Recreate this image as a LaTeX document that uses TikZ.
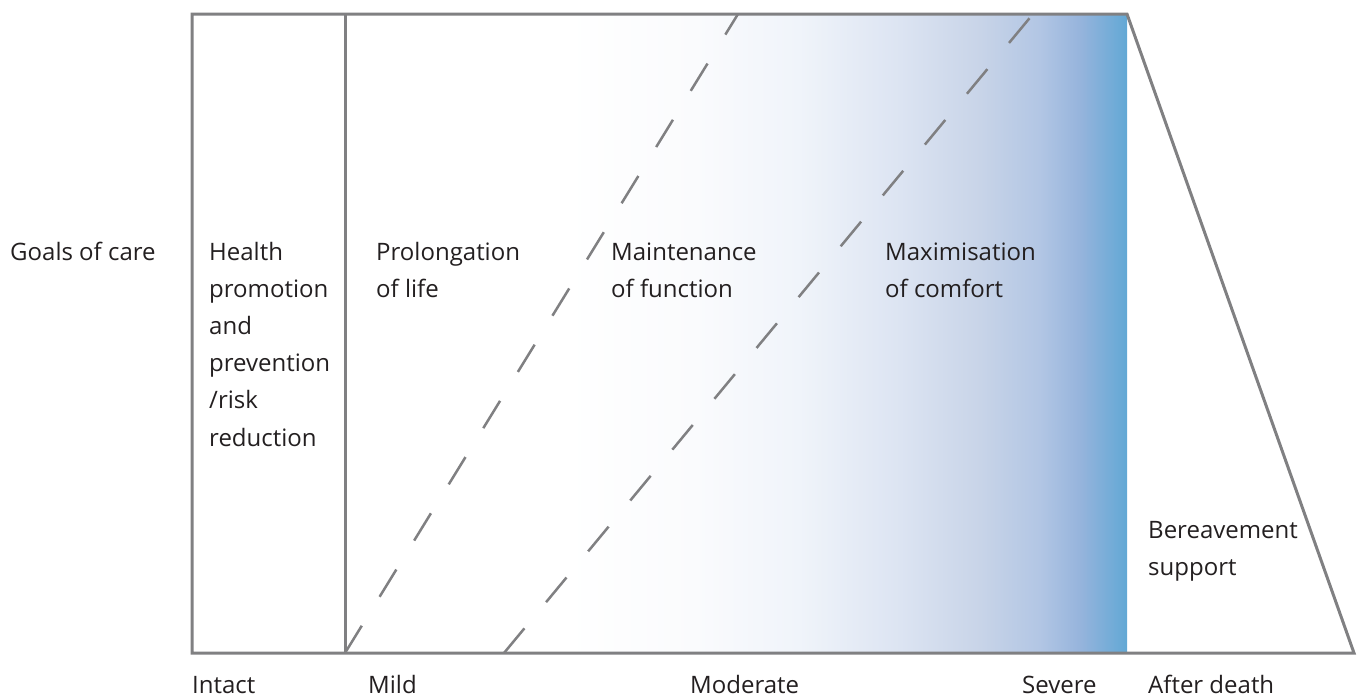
\documentclass[tikz,border=0pt]{standalone}
\usepackage{fontspec}
\setmainfont{Open Sans}
\definecolor{linegray}{RGB}{128,128,130}
\definecolor{txtcol}{RGB}{35,31,32}
\definecolor{ga}{RGB}{250,251,253}
\definecolor{gb}{RGB}{240,244,250}
\definecolor{gc}{RGB}{220,228,242}
\definecolor{gd}{RGB}{200,212,232}
\definecolor{ge}{RGB}{178,198,228}
\definecolor{gf}{RGB}{150,180,220}
\definecolor{gg}{RGB}{98,168,213}
\pgfdeclarehorizontalshading{goalshade}{100bp}{color(0bp)=(white); color(39bp)=(white); color(47.5bp)=(ga); color(54bp)=(gb); color(60.5bp)=(gc); color(65.6bp)=(gd); color(69.4bp)=(ge); color(72bp)=(gf); color(75bp)=(gg); color(100bp)=(gg)}
\newcommand{\stack}[1]{\parbox[t]{6cm}{\raggedright\baselineskip=37.2pt #1}}
\begin{document}
\begin{tikzpicture}[x=1pt,y=-1pt,
  frame/.style={draw=linegray,line width=3pt,line join=miter},
  dashline/.style={draw=linegray,line width=2.5pt,dash pattern=on 32pt off 34pt},
  lbl/.style={anchor=base west,inner sep=0pt,text=txtcol,font=\fontsize{24}{37.2}\selectfont},
  axlbl/.style={lbl,text depth=0pt}]
\useasboundingbox (0,0) rectangle (1360,697);
\coordinate (TL) at (192,14);
\coordinate (BL) at (192,653);
\coordinate (DT) at (345,14);
\coordinate (DB) at (345,653);
\coordinate (ST) at (1127,14);
\coordinate (SB) at (1127,653);
\coordinate (BR) at (1354,653);
\coordinate (A1) at (345,653);
\coordinate (A2) at (738,14);
\coordinate (B1) at (504,653);
\coordinate (B2) at (1033,14);
\shade[shading=goalshade] (DT) rectangle (SB);
\draw[dashline] (A1) -- (A2);
\draw[dashline] (B1) -- (B2);
\draw[frame] (BL) -- (TL) -- (ST) -- (BR) -- cycle;
\draw[frame] (DT) -- (DB);
\node[lbl] (goals) at (10,260) {Goals of care};
\node[lbl] (health) at (209,260) {\stack{Health\\promotion\\and\\prevention\\/risk\\reduction}};
\node[lbl] (prol) at (376,260) {\stack{Prolongation\\of life}};
\node[lbl] (maint) at (611,260) {\stack{Maintenance\\of function}};
\node[lbl] (maxi) at (885,260) {\stack{Maximisation\\of comfort}};
\node[lbl] (berea) at (1148,538) {\stack{Bereavement\\support}};
\node[axlbl] (intact) at (192,693) {Intact};
\node[axlbl] (mild) at (368,693) {Mild};
\node[axlbl] (moder) at (690,693) {Moderate};
\node[axlbl] (severe) at (1022,693) {Severe};
\node[axlbl] (after) at (1148,693) {After death};
\end{tikzpicture}
\end{document}
